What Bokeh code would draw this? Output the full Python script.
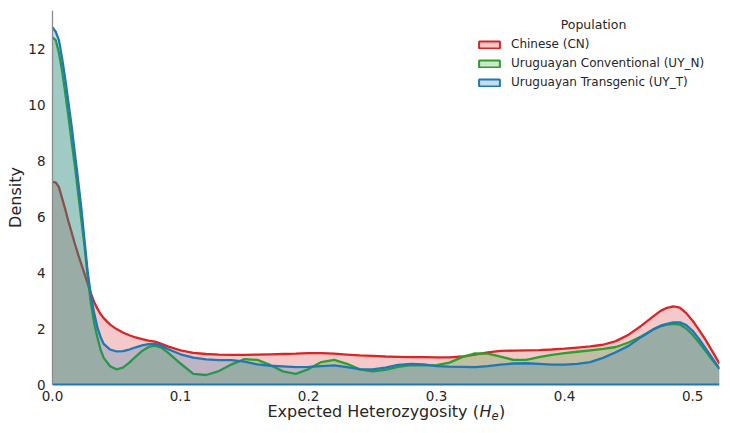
import numpy as np
from bokeh.plotting import figure
from bokeh.models import (Range1d, FixedTicker, PrintfTickFormatter, Legend,
                          LegendItem, Label)
from bokeh.embed import file_html
from bokeh.resources import INLINE

# Expected heterozygosity grid (denser where densities change quickly)
he = [0, 0.0025, 0.005, 0.0075, 0.01, 0.0125, 0.015, 0.0175, 0.02, 0.0225,
      0.025, 0.0275, 0.03, 0.0325, 0.035, 0.0375, 0.04, 0.045, 0.05, 0.055,
      0.06, 0.065, 0.07, 0.075, 0.08, 0.085, 0.09, 0.1, 0.11, 0.12, 0.13,
      0.14, 0.15, 0.16, 0.17, 0.18, 0.19, 0.2, 0.21, 0.22, 0.23, 0.24, 0.25,
      0.26, 0.27, 0.28, 0.29, 0.3, 0.31, 0.32, 0.33, 0.34, 0.35, 0.36, 0.37,
      0.38, 0.39, 0.4, 0.41, 0.42, 0.43, 0.44, 0.45, 0.46, 0.47, 0.475, 0.48,
      0.485, 0.49, 0.495, 0.5, 0.505, 0.51, 0.515, 0.521]

# KDE density per population
density_cn = [7.23, 7.22, 7.05, 6.65, 6.25, 5.82, 5.42, 5.02, 4.65, 4.3,
              3.95, 3.6, 3.25, 2.95, 2.72, 2.52, 2.37, 2.14, 1.98, 1.86,
              1.76, 1.68, 1.62, 1.57, 1.53, 1.45, 1.36, 1.22, 1.13, 1.09, 1.07,
              1.06, 1.06, 1.07, 1.08, 1.09, 1.10, 1.12, 1.12, 1.10, 1.07, 1.04, 1.02,
              1.0, 0.99, 0.98, 0.98, 0.97, 0.97, 1.0, 1.07, 1.15, 1.2, 1.21, 1.22,
              1.23, 1.25, 1.28, 1.32, 1.36, 1.42, 1.55, 1.78, 2.1, 2.46, 2.63, 2.74,
              2.79, 2.75, 2.55, 2.28, 1.95, 1.6, 1.22, 0.74]

density_uy_n = [12.4, 12.3, 11.85, 11.2, 10.4, 9.55, 8.65, 7.8, 6.85, 5.9,
                4.95, 3.85, 2.9, 2.2, 1.7, 1.25, 0.95, 0.65, 0.54, 0.6,
                0.78, 1.0, 1.2, 1.34, 1.39, 1.32, 1.15, 0.75, 0.38, 0.34, 0.48,
                0.72, 0.91, 0.88, 0.7, 0.47, 0.38, 0.55, 0.8, 0.88, 0.74, 0.54, 0.47,
                0.52, 0.63, 0.69, 0.68, 0.69, 0.78, 0.98, 1.11, 1.1, 1.0, 0.88, 0.88,
                0.98, 1.06, 1.12, 1.17, 1.22, 1.27, 1.34, 1.5, 1.72, 1.98, 2.08, 2.14,
                2.17, 2.14, 2.0, 1.78, 1.5, 1.2, 0.9, 0.56]

density_uy_t = [12.76, 12.6, 12.3, 11.65, 10.9, 10.05, 9.2, 8.25, 7.3, 6.3,
                5.15, 4.0, 3.2, 2.55, 2.05, 1.7, 1.45, 1.25, 1.18, 1.19,
                1.25, 1.33, 1.4, 1.44, 1.45, 1.38, 1.27, 1.08, 0.96, 0.9, 0.87,
                0.87, 0.82, 0.72, 0.67, 0.65, 0.62, 0.63, 0.66, 0.68, 0.62, 0.55, 0.54,
                0.6, 0.7, 0.74, 0.72, 0.66, 0.64, 0.63, 0.62, 0.66, 0.71, 0.75, 0.76,
                0.74, 0.71, 0.71, 0.74, 0.8, 0.95, 1.15, 1.38, 1.7, 1.99, 2.1, 2.17,
                2.22, 2.22, 2.12, 1.92, 1.63, 1.3, 0.97, 0.56]

populations = ["Chinese (CN)", "Uruguayan Conventional (UY_N)",
               "Uruguayan Transgenic (UY_T)"]
colors = ["#d62728", "#2ca02c", "#1f77b4"]
x_ticks = [0, 0.1, 0.2, 0.3, 0.4, 0.5]
y_ticks = [0, 2, 4, 6, 8, 10, 12]
X_MAX = 0.521
Y_TOP = 13.36

FONT = "DejaVu Sans"
TEXT = "#262626"

# The frame fills the canvas (bar a small top/right margin) so the axis
# titles sit inside it; both axes are pinned at zero and bounded to the data.
p = figure(width=730, height=433, output_backend="svg", toolbar_location=None,
           x_range=Range1d(-0.040625, X_MAX), y_range=Range1d(-1.75, Y_TOP),
           min_border_left=0, min_border_right=11, min_border_top=10,
           min_border_bottom=0)
p.outline_line_color = None
p.grid.visible = False
p.background_fill_color = "white"
p.border_fill_color = "white"

# filled density curves, drawn in hue order so later fills tint earlier lines
for dens, col in zip([density_cn, density_uy_n, density_uy_t], colors):
    p.varea(x=he, y1=0, y2=dens, fill_color=col, fill_alpha=0.25)
    p.line(x=he, y=dens, line_color=col, line_width=2.3)

# axes
p.xaxis.fixed_location = 0
p.yaxis.fixed_location = 0
p.xaxis.bounds = (0, X_MAX)
p.yaxis.bounds = (0, Y_TOP)
p.xaxis.ticker = FixedTicker(ticks=x_ticks)
p.yaxis.ticker = FixedTicker(ticks=y_ticks)
p.xaxis.formatter = PrintfTickFormatter(format="%.1f")
p.yaxis.formatter = PrintfTickFormatter(format="%d")
for ax in (p.xaxis[0], p.yaxis[0]):
    ax.major_tick_line_color = None
    ax.minor_tick_line_color = None
    ax.major_tick_out = 0
    ax.major_tick_in = 0
    ax.minor_tick_out = 0
    ax.major_label_text_font = FONT
    ax.major_label_text_font_size = "13.5px"
    ax.major_label_text_color = TEXT
p.yaxis.axis_line_color = "#8c8c8c"
p.yaxis.axis_line_width = 1.3
p.xaxis.axis_line_color = "#1f77b4"
p.xaxis.axis_line_width = 2
p.xaxis.major_label_standoff = 6
p.yaxis.major_label_standoff = 7
p.yaxis.axis_label = "Density"
p.yaxis.axis_label_text_font = FONT
p.yaxis.axis_label_text_font_size = "16px"
p.yaxis.axis_label_text_font_style = "normal"
p.yaxis.axis_label_text_color = TEXT
p.yaxis.axis_label_standoff = 0

# x-axis title with italic H and subscript e (screen offsets from frame corner)
xl_base = 22
xl_parts = [
    ("Expected Heterozygosity (", 267, xl_base, "normal", "16px"),
    ("H", 479, xl_base, "italic", "16px"),
    ("e", 491, xl_base - 4, "italic", "11.5px"),
    (")", 498.5, xl_base, "normal", "16px"),
]
for txt, xs, ys, style, size in xl_parts:
    p.add_layout(Label(x=xs, y=ys, x_units="screen", y_units="screen", text=txt,
                       text_font=FONT, text_font_size=size, text_font_style=style,
                       text_color=TEXT, text_baseline="alphabetic"))

# legend with outlined swatches (the swatch renderers hold no visible points)
swatches = [p.patch(x=[np.nan], y=[np.nan], fill_color=c, fill_alpha=0.25,
                    line_color=c, line_width=2) for c in colors]
legend = Legend(items=[LegendItem(label=lab, renderers=[r])
                       for lab, r in zip(populations, swatches)],
                location=(476, 342), orientation="vertical",
                glyph_width=26, glyph_height=9, label_height=18, spacing=1,
                label_standoff=9, padding=0, margin=0,
                label_text_font=FONT, label_text_font_size="12px",
                label_text_color=TEXT, border_line_color=None,
                background_fill_alpha=0)
p.add_layout(legend)
p.add_layout(Label(x=593, y=409, x_units="screen", y_units="screen",
                   text="Population", text_align="center",
                   text_baseline="alphabetic", text_font=FONT,
                   text_font_size="12.5px", text_color=TEXT))

open("out.html", "w").write(file_html(p, INLINE))
